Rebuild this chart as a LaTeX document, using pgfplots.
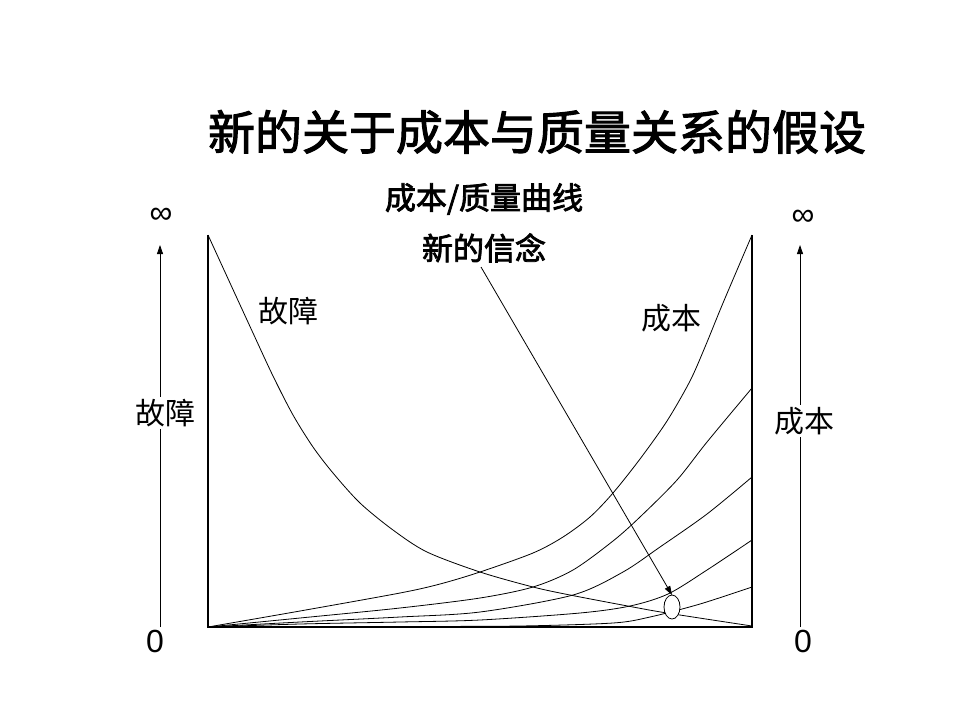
\documentclass[border=0pt]{standalone}
\usepackage{pgfplots}
\pgfplotsset{compat=1.18}
\usetikzlibrary{arrows.meta}
\usepackage{fontspec}
\setmainfont{Liberation Sans}
\newfontfamily\cjk{Noto Sans CJK SC}
\newfontfamily\cjkm[FakeBold=2.2]{Noto Sans CJK SC}
\newfontfamily\cjks[FakeBold=2.5]{Noto Sans CJK SC}
\begin{document}
\begin{tikzpicture}
\begin{axis}[width=960pt,height=720pt,scale only axis,
  xmin=0,xmax=960,ymin=0,ymax=720,y dir=reverse,
  hide axis,clip=false]
\path (axis cs:0,0) rectangle (axis cs:960,720);
% frame
\addplot[black,line width=1.2pt] coordinates {(208,235) (208,627) (752,627) (752,235)};
% failure curve
\addplot[black,line width=0.8pt,smooth] coordinates {
(208,235) (230,283) (253,333) (273,376) (293,415) (313,447) (333,473) (360,503)
(393,530) (427,552) (480,572) (533,587) (570,595) (633,607) (667,613) (752,626)};
% cost curves
\addplot[black,line width=0.8pt,smooth] coordinates {
(208,627) (300,611) (400,593) (440,584) (480,572) (533,553) (563,537) (590,517) (613,493)
(640,459) (667,421) (690,381) (705,347) (723,303) (752,235)};
\addplot[black,line width=0.8pt,smooth] coordinates {
(208,627) (300,618) (400,608) (480,598) (533,587) (573,570) (613,541) (640,517)
(677,480) (707,442) (752,388)};
\addplot[black,line width=0.8pt,smooth] coordinates {
(208,627) (300,622) (400,617) (480,612) (573,595) (623,572) (660,547) (707,514) (752,477)};
\addplot[black,line width=0.8pt,smooth] coordinates {
(208,627) (300,624) (400,622) (480,620) (580,613) (630,606) (668,594) (707,570) (752,540)};
\addplot[black,line width=0.8pt,smooth] coordinates {
(208,627) (400,626.5) (520,626) (613,623) (650,617) (700,604) (752,587)};
% ellipse
\draw[black,fill=white,line width=0.8pt] (axis cs:672,607) ellipse [x radius=8pt, y radius=12pt];
% arrow from label
\draw[black,line width=0.8pt,-{Triangle[length=9pt,width=6pt]}] (axis cs:481,267) -- (axis cs:672,595);
% side axes
\draw[black,line width=0.8pt,-{Triangle[length=9pt,width=6pt]}] (axis cs:160,627) -- (axis cs:160,245);
\draw[black,line width=0.8pt,-{Triangle[length=9pt,width=6pt]}] (axis cs:800,627) -- (axis cs:800,245);
\node[fill=white,inner sep=2pt] at (axis cs:165,413) {\cjk\fontsize{30}{34}\selectfont 故障};
\node[fill=white,inner sep=2pt] at (axis cs:804,421) {\cjk\fontsize{30}{34}\selectfont 成本};
\node at (axis cs:161,216) {\fontsize{32}{36}\selectfont ∞};
\node at (axis cs:803,218) {\fontsize{32}{36}\selectfont ∞};
\node at (axis cs:155,641) {\fontsize{32}{36}\selectfont 0};
\node at (axis cs:803,641) {\fontsize{32}{36}\selectfont 0};
% inner labels
\node at (axis cs:288,311) {\cjk\fontsize{30}{34}\selectfont 故障};
\node at (axis cs:671,318) {\cjk\fontsize{30}{34}\selectfont 成本};
% titles
\node at (axis cs:537,132) {\cjkm\fontsize{47}{52}\selectfont 新的关于成本与质量关系的假设};
\node at (axis cs:484,199) {\cjks\fontsize{31}{36}\selectfont 成本/质量曲线};
\node at (axis cs:484,248) {\cjks\fontsize{31}{36}\selectfont 新的信念};
\end{axis}
\end{tikzpicture}
\end{document}
